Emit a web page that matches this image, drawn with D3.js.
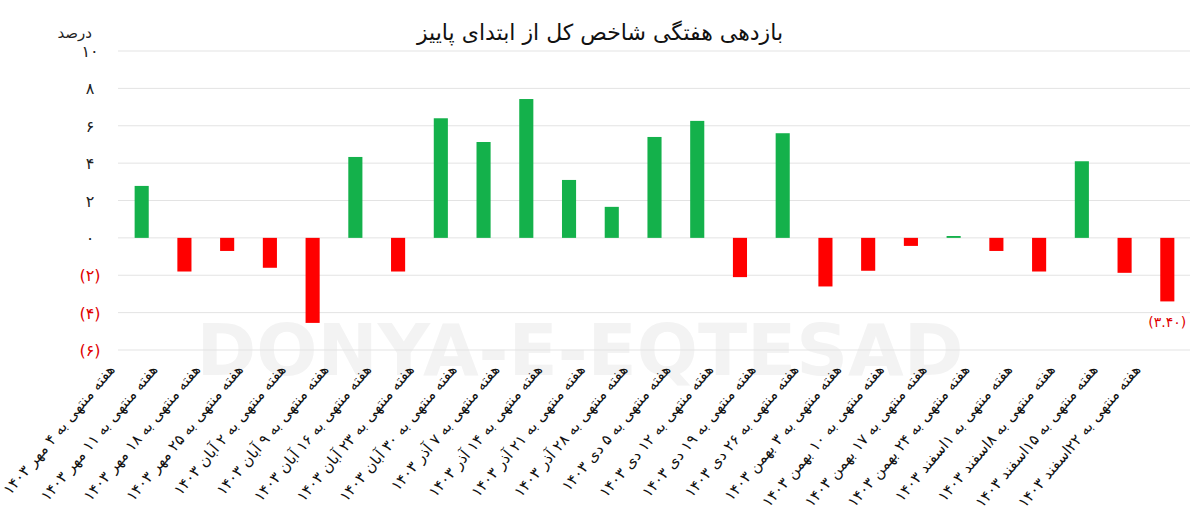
<!DOCTYPE html>
<html><head><meta charset="utf-8">
<script src="https://cdn.jsdelivr.net/npm/d3@7"></script>
<style>body{margin:0;background:#fff}svg{font-family:"DejaVu Sans",sans-serif}</style>
</head><body>
<svg id="chart" width="1200" height="528"></svg>
<script>
const dates = ["۴ مهر","۱۱ مهر","۱۸ مهر","۲۵ مهر","۲ آبان","۹ آبان","۱۶ آبان","۲۳ آبان","۳۰ آبان","۷ آذر","۱۴ آذر","۲۱ آذر","۲۸ آذر","۵ دی","۱۲ دی","۱۹ دی","۲۶ دی","۳ بهمن","۱۰ بهمن","۱۷ بهمن","۲۴ بهمن","۱اسفند","۸اسفند","۱۵اسفند","۲۲اسفند"];
const values = [2.78,-1.8,-0.7,-1.6,-4.55,4.33,-1.8,6.4,5.13,7.43,3.1,1.66,5.4,6.26,-2.1,5.6,-2.6,-1.76,-0.43,0.1,-0.7,-1.8,4.1,-1.87,-3.40];
const yTicks = [-6,-4,-2,0,2,4,6,8,10];

const fa = s => String(s).replace(/\d/g, d => "۰۱۲۳۴۵۶۷۸۹"[d]);
const svg = d3.select("#chart");
const x = d3.scaleBand().domain(d3.range(values.length)).range([106, 1203]).padding(0.67);
const y = d3.scaleLinear().domain([-6, 10]).range([350, 51]);

// watermark
svg.append("text").attr("x", 580).attr("y", 375).attr("text-anchor", "middle")
  .attr("font-size", 72).attr("font-weight", "bold").attr("fill", "#f3f3f3").text("DONYA-E-EQTESAD");

svg.append("g").selectAll("line").data(yTicks).join("line")
  .attr("x1", 118).attr("x2", 1190).attr("y1", d => y(d)).attr("y2", d => y(d))
  .attr("stroke", "#e3e3e3");

svg.append("g").selectAll("text").data(yTicks).join("text")
  .attr("x", 90).attr("y", d => y(d) + 6).attr("text-anchor", "middle")
  .attr("font-size", 16).attr("fill", d => d < 0 ? "#e00000" : "#222")
  .text(d => d < 0 ? "(" + fa(-d) + ")" : fa(d));

svg.append("g").selectAll("rect").data(values).join("rect")
  .attr("x", (d, i) => x(i)).attr("width", x.bandwidth())
  .attr("y", d => y(Math.max(0, d))).attr("height", d => Math.abs(y(d) - y(0)))
  .attr("fill", d => d >= 0 ? "#14b14b" : "#ff0000");

const last = values.length - 1;
svg.append("text").attr("x", x(last) + x.bandwidth() / 2).attr("y", y(values[last]) + 26)
  .attr("text-anchor", "middle").attr("font-size", 14).attr("fill", "#e00000")
  .attr("direction", "ltr").attr("unicode-bidi", "embed")
  .text("(" + fa(Math.abs(values[last]).toFixed(2)) + ")");

svg.append("g").selectAll("text").data(dates).join("text")
  .attr("transform", (d, i) => `translate(${x(i) + x.bandwidth() / 2 - 26},370) rotate(-50)`)
  .attr("direction", "rtl").attr("text-anchor", "start")
  .attr("font-size", 15).attr("fill", "#111")
  .text(d => "هفته منتهی به " + d + " ۱۴۰۳");

svg.append("text").attr("x", 600).attr("y", 40).attr("text-anchor", "middle")
  .attr("font-size", 22).attr("fill", "#111").text("بازدهی هفتگی شاخص کل از ابتدای پاییز");
svg.append("text").attr("x", 92).attr("y", 38).attr("text-anchor", "end")
  .attr("font-size", 15).attr("fill", "#222").text("درصد");
</script>
</body></html>
